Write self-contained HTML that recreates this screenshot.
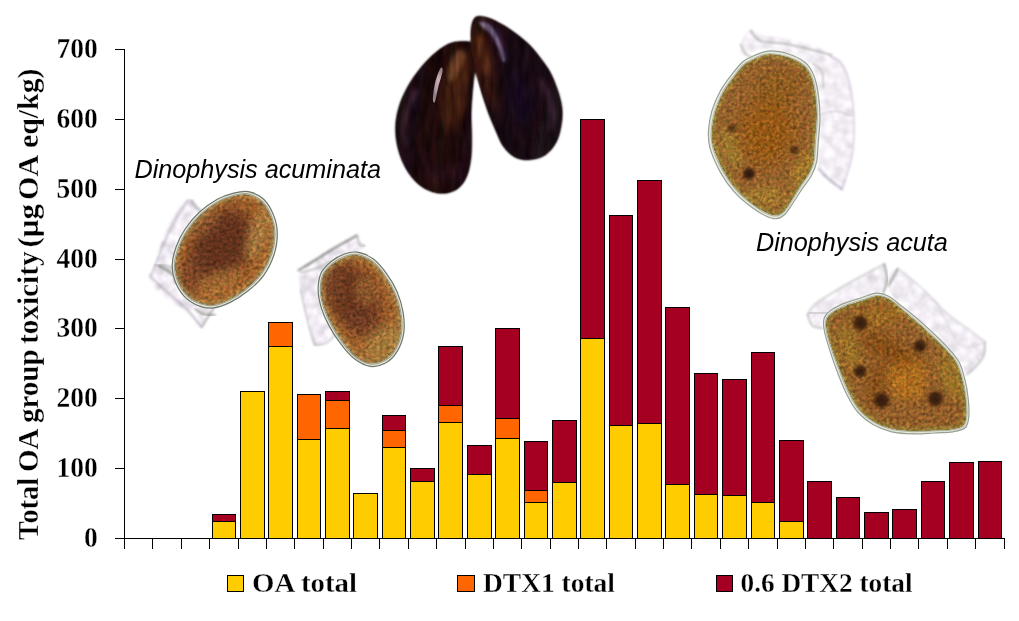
<!DOCTYPE html>
<html lang="en">
<head>
<meta charset="utf-8">
<title>Total OA group toxicity</title>
<style>
html,body{margin:0;padding:0;background:#fff;}
body{width:1019px;height:621px;overflow:hidden;}
svg{display:block;}
text{font-family:"Liberation Serif",serif;font-weight:bold;fill:#000;}
.ax,.yt,.lg{stroke:#fff;stroke-width:0.3px;stroke-linejoin:round;}
.ax{font-size:27px;}
.yt{font-size:28.5px;}
.lg{font-size:27.5px;}
.sp{font-family:"Liberation Sans",sans-serif;font-weight:normal;font-style:italic;font-size:25.2px;}
</style>
</head>
<body>
<svg width="1019" height="621" viewBox="0 0 1019 621">
<rect width="1019" height="621" fill="#fff"/>
<g shape-rendering="crispEdges">
<path d="M124.5 49V549M115 538.5H1005M115 468.5H125M115 398.5H125M115 328.5H125M115 259.5H125M115 189.5H125M115 119.5H125M115 49.5H125M152.5 538V549M181.5 538V549M209.5 538V549M238.5 538V549M266.5 538V549M294.5 538V549M323.5 538V549M351.5 538V549M379.5 538V549M408.5 538V549M436.5 538V549M465.5 538V549M493.5 538V549M521.5 538V549M550.5 538V549M578.5 538V549M606.5 538V549M635.5 538V549M663.5 538V549M691.5 538V549M720.5 538V549M748.5 538V549M777.5 538V549M805.5 538V549M833.5 538V549M862.5 538V549M890.5 538V549M918.5 538V549M947.5 538V549M975.5 538V549M1004.5 538V549" stroke="#000" fill="none"/>
<rect x="212.5" y="521.5" width="23" height="17" fill="#ffcc00" stroke="#000"/>
<rect x="212.5" y="514.5" width="23" height="7" fill="#a50021" stroke="#000"/>
<rect x="240.5" y="391.5" width="24" height="147" fill="#ffcc00" stroke="#000"/>
<rect x="268.5" y="346.5" width="24" height="192" fill="#ffcc00" stroke="#000"/>
<rect x="268.5" y="322.5" width="24" height="24" fill="#ff6600" stroke="#000"/>
<rect x="297.5" y="439.5" width="23" height="99" fill="#ffcc00" stroke="#000"/>
<rect x="297.5" y="394.5" width="23" height="45" fill="#ff6600" stroke="#000"/>
<rect x="325.5" y="428.5" width="24" height="110" fill="#ffcc00" stroke="#000"/>
<rect x="325.5" y="400.5" width="24" height="28" fill="#ff6600" stroke="#000"/>
<rect x="325.5" y="391.5" width="24" height="9" fill="#a50021" stroke="#000"/>
<rect x="353.5" y="493.5" width="24" height="45" fill="#ffcc00" stroke="#000"/>
<rect x="382.5" y="447.5" width="23" height="91" fill="#ffcc00" stroke="#000"/>
<rect x="382.5" y="430.5" width="23" height="17" fill="#ff6600" stroke="#000"/>
<rect x="382.5" y="415.5" width="23" height="15" fill="#a50021" stroke="#000"/>
<rect x="410.5" y="481.5" width="24" height="57" fill="#ffcc00" stroke="#000"/>
<rect x="410.5" y="468.5" width="24" height="13" fill="#a50021" stroke="#000"/>
<rect x="438.5" y="422.5" width="24" height="116" fill="#ffcc00" stroke="#000"/>
<rect x="438.5" y="405.5" width="24" height="17" fill="#ff6600" stroke="#000"/>
<rect x="438.5" y="346.5" width="24" height="59" fill="#a50021" stroke="#000"/>
<rect x="467.5" y="474.5" width="24" height="64" fill="#ffcc00" stroke="#000"/>
<rect x="467.5" y="445.5" width="24" height="29" fill="#a50021" stroke="#000"/>
<rect x="495.5" y="438.5" width="24" height="100" fill="#ffcc00" stroke="#000"/>
<rect x="495.5" y="418.5" width="24" height="20" fill="#ff6600" stroke="#000"/>
<rect x="495.5" y="328.5" width="24" height="90" fill="#a50021" stroke="#000"/>
<rect x="524.5" y="502.5" width="23" height="36" fill="#ffcc00" stroke="#000"/>
<rect x="524.5" y="490.5" width="23" height="12" fill="#ff6600" stroke="#000"/>
<rect x="524.5" y="441.5" width="23" height="49" fill="#a50021" stroke="#000"/>
<rect x="552.5" y="482.5" width="24" height="56" fill="#ffcc00" stroke="#000"/>
<rect x="552.5" y="420.5" width="24" height="62" fill="#a50021" stroke="#000"/>
<rect x="580.5" y="338.5" width="24" height="200" fill="#ffcc00" stroke="#000"/>
<rect x="580.5" y="119.5" width="24" height="219" fill="#a50021" stroke="#000"/>
<rect x="609.5" y="425.5" width="23" height="113" fill="#ffcc00" stroke="#000"/>
<rect x="609.5" y="215.5" width="23" height="210" fill="#a50021" stroke="#000"/>
<rect x="637.5" y="423.5" width="24" height="115" fill="#ffcc00" stroke="#000"/>
<rect x="637.5" y="180.5" width="24" height="243" fill="#a50021" stroke="#000"/>
<rect x="665.5" y="484.5" width="24" height="54" fill="#ffcc00" stroke="#000"/>
<rect x="665.5" y="307.5" width="24" height="177" fill="#a50021" stroke="#000"/>
<rect x="694.5" y="494.5" width="23" height="44" fill="#ffcc00" stroke="#000"/>
<rect x="694.5" y="373.5" width="23" height="121" fill="#a50021" stroke="#000"/>
<rect x="722.5" y="495.5" width="24" height="43" fill="#ffcc00" stroke="#000"/>
<rect x="722.5" y="379.5" width="24" height="116" fill="#a50021" stroke="#000"/>
<rect x="751.5" y="502.5" width="23" height="36" fill="#ffcc00" stroke="#000"/>
<rect x="751.5" y="352.5" width="23" height="150" fill="#a50021" stroke="#000"/>
<rect x="779.5" y="521.5" width="24" height="17" fill="#ffcc00" stroke="#000"/>
<rect x="779.5" y="440.5" width="24" height="81" fill="#a50021" stroke="#000"/>
<rect x="807.5" y="481.5" width="24" height="57" fill="#a50021" stroke="#000"/>
<rect x="836.5" y="497.5" width="23" height="41" fill="#a50021" stroke="#000"/>
<rect x="864.5" y="512.5" width="24" height="26" fill="#a50021" stroke="#000"/>
<rect x="892.5" y="509.5" width="24" height="29" fill="#a50021" stroke="#000"/>
<rect x="921.5" y="481.5" width="23" height="57" fill="#a50021" stroke="#000"/>
<rect x="949.5" y="462.5" width="24" height="76" fill="#a50021" stroke="#000"/>
<rect x="978.5" y="461.5" width="23" height="77" fill="#a50021" stroke="#000"/>
<rect x="227.5" y="575.5" width="16" height="16" fill="#ffcc00" stroke="#000"/>
<rect x="457.5" y="575.5" width="17" height="16" fill="#ff6600" stroke="#000"/>
<rect x="716.5" y="575.5" width="16" height="16" fill="#a50021" stroke="#000"/>
</g>
<text transform="translate(97.8 547.4) scale(1.02 1.075)" text-anchor="end" class="ax">0</text>
<text transform="translate(97.8 477.4) scale(1.02 1.075)" text-anchor="end" class="ax">100</text>
<text transform="translate(97.8 407.4) scale(1.02 1.075)" text-anchor="end" class="ax">200</text>
<text transform="translate(97.8 337.4) scale(1.02 1.075)" text-anchor="end" class="ax">300</text>
<text transform="translate(97.8 268.4) scale(1.02 1.075)" text-anchor="end" class="ax">400</text>
<text transform="translate(97.8 198.4) scale(1.02 1.075)" text-anchor="end" class="ax">500</text>
<text transform="translate(97.8 128.4) scale(1.02 1.075)" text-anchor="end" class="ax">600</text>
<text transform="translate(97.8 58.4) scale(1.02 1.075)" text-anchor="end" class="ax">700</text>
<text transform="translate(37.6 540.5) rotate(-90)" class="yt"><tspan x="0.6" textLength="62" lengthAdjust="spacingAndGlyphs">Total</tspan> <tspan x="68.5" textLength="42" lengthAdjust="spacingAndGlyphs">OA</tspan> <tspan x="117.5" textLength="73.5" lengthAdjust="spacingAndGlyphs">group</tspan> <tspan x="196.5" textLength="92.5" lengthAdjust="spacingAndGlyphs">toxicity</tspan> <tspan x="293" textLength="43.5" lengthAdjust="spacingAndGlyphs">(μg</tspan> <tspan x="340.5" textLength="43.5" lengthAdjust="spacingAndGlyphs">OA</tspan> <tspan x="392.5" textLength="79.5" lengthAdjust="spacingAndGlyphs">eq/kg)</tspan></text>
<text x="252" y="591.5" class="lg" textLength="105" lengthAdjust="spacingAndGlyphs">OA total</text>
<text x="483" y="591.5" class="lg" textLength="132" lengthAdjust="spacingAndGlyphs">DTX1 total</text>
<text x="740.5" y="591.5" class="lg" textLength="172" lengthAdjust="spacingAndGlyphs">0.6 DTX2 total</text>
<defs>
<filter id="grain" x="-5%" y="-5%" width="110%" height="110%" color-interpolation-filters="sRGB">
  <feTurbulence type="fractalNoise" baseFrequency="0.3" numOctaves="2" seed="11" result="n"/>
  <feColorMatrix in="n" type="matrix" values="1.3 0.7 0 0 -0.5  0.75 1.25 0 0 -0.5  1 1 0 0 -0.5  0 0 0 0 1" result="n1"/>
  <feComposite in="SourceGraphic" in2="n1" operator="arithmetic" k1="0.6" k2="0.7" k3="0" k4="0" result="tx"/>
  <feComposite in="tx" in2="SourceAlpha" operator="in" result="txm"/>
  <feGaussianBlur in="txm" stdDeviation="0.5"/>
</filter>
<filter id="mgrain" x="-5%" y="-5%" width="110%" height="110%" color-interpolation-filters="sRGB">
  <feTurbulence type="fractalNoise" baseFrequency="0.16 0.04" numOctaves="2" seed="5" result="n"/>
  <feColorMatrix in="n" type="matrix" values="1.1 0.7 0 0 -0.4  0.9 0.8 0 0 -0.4  0.8 0.7 0.3 0 -0.42  0 0 0 0 1" result="n1"/>
  <feComposite in="SourceGraphic" in2="n1" operator="arithmetic" k1="0.55" k2="0.55" k3="0.03" k4="-0.015" result="tx"/>
  <feComposite in="tx" in2="SourceAlpha" operator="in" result="txm"/>
  <feGaussianBlur in="txm" stdDeviation="0.7"/>
</filter>
<filter id="wgrain" x="-10%" y="-10%" width="120%" height="120%" color-interpolation-filters="sRGB">
  <feTurbulence type="fractalNoise" baseFrequency="0.12" numOctaves="3" seed="21" result="n"/>
  <feColorMatrix in="n" type="matrix" values="0.3 0.3 0 0 0.63  0.28 0.3 0 0 0.61  0.3 0.3 0 0 0.64  0 0 0 0 1" result="n1"/>
  <feComposite in="n1" in2="SourceAlpha" operator="in" result="w"/>
  <feGaussianBlur in="w" stdDeviation="1.3"/>
</filter>
<filter id="soft" x="-10%" y="-10%" width="120%" height="120%"><feGaussianBlur stdDeviation="1.1"/></filter>
<filter id="soft2" x="-20%" y="-20%" width="140%" height="140%"><feGaussianBlur stdDeviation="2.2"/></filter>
<filter id="soft3" x="-30%" y="-30%" width="160%" height="160%"><feGaussianBlur stdDeviation="4"/></filter>
<filter id="soft6" x="-40%" y="-40%" width="180%" height="180%"><feGaussianBlur stdDeviation="7"/></filter>
<filter id="soft05" x="-10%" y="-10%" width="120%" height="120%"><feGaussianBlur stdDeviation="0.6"/></filter>
<radialGradient id="spot"><stop offset="0" stop-color="#22100a" stop-opacity="0.97"/><stop offset="0.5" stop-color="#2e160a" stop-opacity="0.85"/><stop offset="1" stop-color="#4a260c" stop-opacity="0"/></radialGradient>
<linearGradient id="mL" x1="0" y1="0" x2="1" y2="0.25">
  <stop offset="0" stop-color="#2a181e"/><stop offset="0.35" stop-color="#1e0e12"/><stop offset="0.7" stop-color="#281210"/><stop offset="1" stop-color="#200e12"/>
</linearGradient>
<linearGradient id="mR" x1="0" y1="0" x2="1" y2="0.4">
  <stop offset="0" stop-color="#301610"/><stop offset="0.3" stop-color="#220e12"/><stop offset="0.7" stop-color="#1a0c14"/><stop offset="1" stop-color="#24141c"/>
</linearGradient>
</defs>
<g id="mussel" filter="url(#mgrain)">
<clipPath id="cmL"><path d="M466.5 40.6C463.2 40.5 456.3 40.4 451.2 42.1C446.1 43.9 441.0 47.2 435.9 51.3C430.8 55.4 425.5 60.8 420.6 66.6C415.8 72.5 410.7 79.6 406.8 86.5C403.0 93.4 399.7 100.8 397.7 107.9C395.6 115.1 394.6 122.2 394.6 129.4C394.6 136.5 395.9 144.2 397.7 150.8C399.4 157.4 402.0 163.6 405.3 169.2C408.6 174.8 413.0 180.5 417.5 184.5C422.1 188.5 427.8 191.5 432.9 193.0C438.0 194.6 443.6 194.6 448.2 193.7C452.7 192.7 457.1 190.6 460.4 187.5C463.7 184.5 466.1 180.4 468.1 175.3C470.0 170.2 471.3 163.6 472.0 156.9C472.8 150.3 472.6 142.6 472.6 135.5C472.6 128.4 471.9 121.2 472.0 114.1C472.1 106.9 472.7 99.8 473.3 92.6C473.8 85.5 474.9 77.9 475.1 71.2C475.2 64.6 474.8 57.5 474.2 52.9C473.5 48.2 472.4 45.1 471.1 43.1C469.8 41.0 469.8 40.8 466.5 40.6Z"/></clipPath><clipPath id="cmR"><path d="M475.7 16.1C473.4 17.4 472.0 20.2 471.1 23.8C470.2 27.3 470.0 32.2 470.2 37.5C470.3 42.9 471.1 49.8 472.0 55.9C473.0 62.0 474.1 67.6 475.7 74.3C477.3 80.9 479.8 89.1 481.8 95.7C483.9 102.3 485.7 107.9 487.9 114.1C490.2 120.2 493.1 126.8 495.6 132.4C498.2 138.0 499.9 143.4 503.3 147.7C506.6 152.1 510.9 156.3 515.5 158.5C520.1 160.6 525.7 161.1 530.8 160.6C535.9 160.1 541.8 158.3 546.1 155.4C550.4 152.5 554.2 148.0 556.8 143.1C559.5 138.3 561.0 132.2 562.0 126.3C563.0 120.4 563.6 114.1 562.9 107.9C562.3 101.8 560.4 95.7 558.4 89.6C556.3 83.5 553.8 76.8 550.7 71.2C547.6 65.6 543.8 60.8 540.0 55.9C536.2 51.1 532.3 46.5 527.7 42.1C523.1 37.8 517.5 33.5 512.4 29.9C507.3 26.3 501.7 23.0 497.1 20.7C492.5 18.4 488.5 16.9 484.9 16.1C481.3 15.4 478.0 14.8 475.7 16.1Z"/></clipPath>
<g filter="url(#soft)">
<path d="M466.5 40.6C463.2 40.5 456.3 40.4 451.2 42.1C446.1 43.9 441.0 47.2 435.9 51.3C430.8 55.4 425.5 60.8 420.6 66.6C415.8 72.5 410.7 79.6 406.8 86.5C403.0 93.4 399.7 100.8 397.7 107.9C395.6 115.1 394.6 122.2 394.6 129.4C394.6 136.5 395.9 144.2 397.7 150.8C399.4 157.4 402.0 163.6 405.3 169.2C408.6 174.8 413.0 180.5 417.5 184.5C422.1 188.5 427.8 191.5 432.9 193.0C438.0 194.6 443.6 194.6 448.2 193.7C452.7 192.7 457.1 190.6 460.4 187.5C463.7 184.5 466.1 180.4 468.1 175.3C470.0 170.2 471.3 163.6 472.0 156.9C472.8 150.3 472.6 142.6 472.6 135.5C472.6 128.4 471.9 121.2 472.0 114.1C472.1 106.9 472.7 99.8 473.3 92.6C473.8 85.5 474.9 77.9 475.1 71.2C475.2 64.6 474.8 57.5 474.2 52.9C473.5 48.2 472.4 45.1 471.1 43.1C469.8 41.0 469.8 40.8 466.5 40.6Z" fill="url(#mL)"/>
<path d="M475.7 16.1C473.4 17.4 472.0 20.2 471.1 23.8C470.2 27.3 470.0 32.2 470.2 37.5C470.3 42.9 471.1 49.8 472.0 55.9C473.0 62.0 474.1 67.6 475.7 74.3C477.3 80.9 479.8 89.1 481.8 95.7C483.9 102.3 485.7 107.9 487.9 114.1C490.2 120.2 493.1 126.8 495.6 132.4C498.2 138.0 499.9 143.4 503.3 147.7C506.6 152.1 510.9 156.3 515.5 158.5C520.1 160.6 525.7 161.1 530.8 160.6C535.9 160.1 541.8 158.3 546.1 155.4C550.4 152.5 554.2 148.0 556.8 143.1C559.5 138.3 561.0 132.2 562.0 126.3C563.0 120.4 563.6 114.1 562.9 107.9C562.3 101.8 560.4 95.7 558.4 89.6C556.3 83.5 553.8 76.8 550.7 71.2C547.6 65.6 543.8 60.8 540.0 55.9C536.2 51.1 532.3 46.5 527.7 42.1C523.1 37.8 517.5 33.5 512.4 29.9C507.3 26.3 501.7 23.0 497.1 20.7C492.5 18.4 488.5 16.9 484.9 16.1C481.3 15.4 478.0 14.8 475.7 16.1Z" fill="url(#mR)"/>
</g>
<g clip-path="url(#cmL)">
<path d="M461.9 48.3C458.6 47.2 454.0 56.2 451.2 62.0C448.4 67.9 446.4 75.8 445.1 83.5C443.8 91.1 443.1 99.8 443.6 107.9C444.1 116.1 445.6 130.4 448.2 132.4C450.7 134.5 455.8 126.3 458.9 120.2C461.9 114.1 464.5 104.4 466.5 95.7C468.6 87.0 471.9 76.1 471.1 68.2C470.3 60.2 465.2 49.3 461.9 48.3Z" fill="#643018" opacity="0.7" filter="url(#soft3)"/>
<path d="M457.3 51.3C454.8 53.4 451.2 60.2 449.7 65.1C448.2 69.9 447.4 78.1 448.2 80.4C448.9 82.7 452.0 81.4 454.3 78.9C456.6 76.3 460.1 69.4 461.9 65.1C463.7 60.8 465.8 55.1 465.0 52.9C464.2 50.6 459.9 49.3 457.3 51.3Z" fill="#a06c40" opacity="0.6" filter="url(#soft2)"/>
<path d="M440.5 68.2C439.3 69.9 436.6 76.8 435.3 81.9C434.0 87.0 432.9 95.5 432.9 98.8C432.8 102.1 434.1 103.9 435.0 101.8C435.9 99.8 437.1 91.6 438.4 86.5C439.6 81.4 442.3 74.3 442.6 71.2C443.0 68.2 441.7 66.4 440.5 68.2Z" fill="#f0dfe4" opacity="0.8" filter="url(#soft05)"/>
<path d="M413.0 89.6C410.9 92.4 407.1 103.9 405.3 111.0C403.5 118.2 402.0 126.3 402.2 132.4C402.5 138.6 405.7 150.3 406.8 147.7C408.0 145.2 407.2 126.1 409.0 117.1C410.8 108.2 416.9 98.8 417.5 94.2C418.2 89.6 415.0 86.8 413.0 89.6Z" fill="#5a3a52" opacity="0.55" filter="url(#soft2)"/>
<path d="M420.6 144.7C422.1 143.1 425.2 155.9 429.8 160.0C434.4 164.1 442.5 168.7 448.2 169.2C453.8 169.7 461.2 162.0 463.5 163.0C465.8 164.1 465.5 172.0 461.9 175.3C458.4 178.6 448.9 184.0 442.0 182.9C435.1 181.9 424.2 175.5 420.6 169.2C417.0 162.8 419.1 146.2 420.6 144.7Z" fill="#341626" opacity="0.6" filter="url(#soft3)"/>
</g>
<g clip-path="url(#cmR)">
<path d="M473.3 31.4C471.9 34.0 474.1 43.2 475.1 49.8C476.1 56.4 477.5 63.6 479.4 71.2C481.3 78.9 483.7 89.1 486.4 95.7C489.1 102.3 494.1 112.5 495.6 111.0C497.1 109.5 496.5 95.2 495.6 86.5C494.7 77.9 492.4 67.6 490.4 59.0C488.4 50.3 486.2 39.1 483.4 34.5C480.5 29.9 474.6 28.9 473.3 31.4Z" fill="#5e2c18" opacity="0.75" filter="url(#soft3)"/>
<path d="M477.2 37.5C477.0 40.6 479.0 49.8 480.3 55.9C481.6 62.0 483.3 71.5 484.9 74.3C486.5 77.1 489.5 75.8 489.8 72.7C490.1 69.7 488.1 61.8 486.7 55.9C485.4 50.0 483.4 40.6 481.8 37.5C480.2 34.5 477.5 34.5 477.2 37.5Z" fill="#8a5028" opacity="0.5" filter="url(#soft2)"/>
<path d="M477.2 20.7C477.3 19.0 482.4 18.6 485.5 19.8C488.6 21.0 492.6 24.0 495.6 27.8C498.6 31.5 501.2 36.9 503.3 42.1C505.3 47.3 507.9 55.7 507.8 59.0C507.7 62.3 504.7 64.6 502.6 62.0C500.6 59.5 498.6 49.0 495.6 43.7C492.6 38.3 487.9 33.7 484.9 29.9C481.8 26.1 477.1 22.4 477.2 20.7Z" fill="#4a3a7a" opacity="0.4" filter="url(#soft2)"/>
<path d="M478.8 22.2C479.7 21.6 485.7 22.3 488.6 24.1C491.4 25.9 493.6 28.8 495.9 33.0C498.3 37.1 501.1 44.6 502.6 49.2C504.2 53.8 505.1 58.6 505.1 60.5C505.0 62.4 503.6 63.0 502.3 60.8C501.1 58.6 499.6 51.7 497.7 47.3C495.9 43.0 493.5 37.8 491.0 34.5C488.5 31.2 484.8 29.8 482.7 27.8C480.7 25.7 477.8 22.9 478.8 22.2Z" fill="#dcd0ec" opacity="0.45" filter="url(#soft)"/>
<path d="M541.5 77.3C543.6 79.7 549.9 90.6 552.2 97.2C554.5 103.9 555.5 111.3 555.3 117.1C555.0 123.0 551.8 134.5 550.7 132.4C549.6 130.4 550.3 113.2 548.6 104.9C546.8 96.6 541.2 87.4 540.0 82.8C538.8 78.3 539.5 74.9 541.5 77.3Z" fill="#5a3a58" opacity="0.5" filter="url(#soft2)"/>
<path d="M515.5 65.1C518.6 65.1 524.9 76.3 527.7 83.5C530.5 90.6 533.4 100.8 532.3 107.9C531.3 115.1 525.4 126.3 521.6 126.3C517.8 126.3 511.4 115.1 509.4 107.9C507.3 100.8 508.4 90.6 509.4 83.5C510.4 76.3 512.4 65.1 515.5 65.1Z" fill="#1c1030" opacity="0.5" filter="url(#soft3)"/>
</g>
</g>
<g id="a1">
<path d="M189.0 199.3C185.3 198.9 182.1 203.8 178.6 208.3C175.2 212.9 171.3 220.4 168.3 226.4C165.3 232.4 162.8 238.4 160.6 244.4C158.5 250.4 157.4 257.3 155.5 262.5C153.5 267.6 149.0 271.0 149.0 275.3C149.0 279.6 151.8 283.9 155.5 288.2C159.1 292.5 165.3 296.8 170.9 301.1C176.5 305.4 183.8 309.5 189.0 314.0C194.1 318.5 198.8 327.3 201.8 328.2C204.8 329.0 204.8 322.4 207.0 319.1C209.1 315.9 216.4 311.2 214.7 308.8C213.0 306.5 202.3 307.5 196.7 305.0C191.1 302.4 185.3 299.2 181.2 293.4C177.1 287.6 173.1 277.9 172.2 270.2C171.3 262.5 173.7 254.3 176.1 247.0C178.4 239.7 182.3 232.4 186.4 226.4C190.5 220.4 200.1 215.4 200.6 210.9C201.0 206.4 192.6 199.8 189.0 199.3Z" fill="#fff" filter="url(#wgrain)" opacity="0.8"/>
<path d="M187.7 200.6C185.7 203.6 179.9 211.8 176.1 218.6C172.2 225.5 167.9 234.1 164.5 241.8C161.0 249.6 157.8 259.2 155.5 265.0C153.1 270.8 151.2 274.7 150.3 276.6" fill="none" stroke="#9a96a4" stroke-width="1.7999999999999998" opacity="0.5" stroke-linecap="round" filter="url(#soft)"/>
<path d="M151.6 277.9C154.4 280.5 162.5 288.2 168.3 293.4C174.1 298.5 180.9 303.3 186.4 308.8C191.9 314.4 198.8 323.9 201.3 326.9" fill="none" stroke="#8a8894" stroke-width="1.7999999999999998" opacity="0.5" stroke-linecap="round" filter="url(#soft)"/>
<path d="M155.5 265.0C157.6 265.2 165.3 265.7 168.3 266.3C171.3 267.0 172.6 268.5 173.5 268.9" fill="none" stroke="#7a8078" stroke-width="1.7999999999999998" opacity="0.5" stroke-linecap="round" filter="url(#soft)"/>
<path d="M201.8 326.9C202.9 325.2 206.3 319.6 208.3 316.6C210.2 313.6 212.6 310.1 213.4 308.8" fill="none" stroke="#8a9088" stroke-width="1.7999999999999998" opacity="0.6" stroke-linecap="round" filter="url(#soft)"/>
<path d="M159.3 266.3C160.6 267.0 164.7 268.7 167.1 270.2C169.4 271.7 172.0 273.2 173.5 275.3C175.0 277.5 175.6 281.8 176.1 283.1" fill="none" stroke="#6a7260" stroke-width="2.8000000000000003" opacity="0.55" stroke-linecap="round" filter="url(#soft)"/>
<path d="M195.4 308.8C196.7 309.7 199.9 312.9 203.1 314.0C206.3 315.1 212.8 315.1 214.7 315.3" fill="none" stroke="#6a7260" stroke-width="2.6" opacity="0.5" stroke-linecap="round" filter="url(#soft)"/>
<path d="M191.5 200.1C192.2 201.3 193.9 205.3 195.4 207.1C196.9 208.8 199.7 209.8 200.6 210.4" fill="none" stroke="#8a8e88" stroke-width="2.2" opacity="0.5" stroke-linecap="round" filter="url(#soft)"/>
<path d="M248.2 191.6C253.4 192.6 259.4 195.2 263.7 199.3C268.0 203.4 271.7 210.3 274.0 216.1C276.3 221.9 277.3 227.7 277.3 234.1C277.3 240.6 276.3 247.9 274.0 254.7C271.7 261.6 268.0 269.3 263.7 275.3C259.4 281.3 253.8 286.3 248.2 290.8C242.6 295.3 236.2 299.5 230.2 302.4C224.2 305.3 217.7 307.6 212.1 308.1C206.6 308.5 201.4 307.0 196.7 305.0C192.0 302.9 187.5 300.0 183.8 295.9C180.2 291.9 176.7 285.6 174.8 280.5C172.9 275.3 172.0 270.6 172.2 265.0C172.4 259.4 173.9 253.0 176.1 247.0C178.2 241.0 181.2 234.8 185.1 229.0C189.0 223.2 193.9 217.1 199.3 212.2C204.6 207.3 211.7 202.5 217.3 199.3C222.9 196.2 227.6 194.7 232.8 193.4C237.9 192.1 243.1 190.6 248.2 191.6Z" fill="#e6e6dc" stroke="#6e7868" stroke-width="1.2" filter="url(#soft05)"/>
<path d="M247.3 193.8C252.3 194.7 258.1 197.3 262.2 201.2C266.3 205.1 269.9 211.8 272.0 217.4C274.1 223.0 275.1 228.6 275.0 234.8C275.0 241.0 273.8 248.0 271.6 254.5C269.4 261.0 265.8 268.3 261.7 274.0C257.6 279.8 252.3 284.4 247.0 288.7C241.7 293.1 235.6 297.2 229.9 300.0C224.2 302.8 218.0 305.2 212.6 305.7C207.3 306.2 202.3 304.7 197.7 302.8C193.2 300.9 188.9 298.1 185.4 294.1C181.9 290.2 178.6 284.2 176.8 279.2C175.0 274.3 174.2 269.7 174.5 264.4C174.8 259.0 176.4 252.9 178.5 247.1C180.6 241.4 183.5 235.6 187.2 230.1C190.9 224.6 195.5 219.0 200.6 214.2C205.6 209.5 212.3 204.8 217.6 201.7C222.9 198.6 227.4 197.1 232.4 195.8C237.3 194.5 242.3 192.9 247.3 193.8Z" fill="none" stroke="#6a6a50" stroke-width="1.2" opacity="0.55" filter="url(#soft05)"/>
<clipPath id="ca1"><path d="M247.1 194.4C252.0 195.3 257.8 197.8 261.8 201.7C265.9 205.6 269.4 212.2 271.5 217.8C273.6 223.3 274.5 228.8 274.5 235.0C274.4 241.1 273.2 248.0 271.0 254.4C268.8 260.9 265.2 268.1 261.1 273.7C257.1 279.4 251.9 283.9 246.7 288.2C241.5 292.5 235.5 296.6 229.8 299.4C224.2 302.2 218.0 304.6 212.7 305.1C207.4 305.6 202.5 304.2 198.0 302.3C193.5 300.4 189.2 297.6 185.8 293.7C182.3 289.8 179.1 283.8 177.3 278.9C175.6 274.0 174.8 269.5 175.1 264.2C175.4 258.9 177.0 252.8 179.1 247.2C181.2 241.5 184.1 235.8 187.7 230.4C191.4 225.0 195.9 219.4 200.9 214.7C205.9 210.0 212.5 205.4 217.7 202.3C222.9 199.2 227.4 197.7 232.3 196.4C237.2 195.0 242.1 193.5 247.1 194.4Z"/></clipPath>
<g filter="url(#grain)"><g clip-path="url(#ca1)">
<path d="M247.1 194.4C252.0 195.3 257.8 197.8 261.8 201.7C265.9 205.6 269.4 212.2 271.5 217.8C273.6 223.3 274.5 228.8 274.5 235.0C274.4 241.1 273.2 248.0 271.0 254.4C268.8 260.9 265.2 268.1 261.1 273.7C257.1 279.4 251.9 283.9 246.7 288.2C241.5 292.5 235.5 296.6 229.8 299.4C224.2 302.2 218.0 304.6 212.7 305.1C207.4 305.6 202.5 304.2 198.0 302.3C193.5 300.4 189.2 297.6 185.8 293.7C182.3 289.8 179.1 283.8 177.3 278.9C175.6 274.0 174.8 269.5 175.1 264.2C175.4 258.9 177.0 252.8 179.1 247.2C181.2 241.5 184.1 235.8 187.7 230.4C191.4 225.0 195.9 219.4 200.9 214.7C205.9 210.0 212.5 205.4 217.7 202.3C222.9 199.2 227.4 197.7 232.3 196.4C237.2 195.0 242.1 193.5 247.1 194.4Z" fill="#a0602c"/>
<ellipse cx="222.5" cy="244.4" rx="28" ry="38" transform="rotate(35 222.5 244.4)" fill="#5c2e1c" opacity="0.9" filter="url(#soft6)"/>
<ellipse cx="191.5" cy="275.3" rx="14" ry="22" transform="rotate(20 191.5 275.3)" fill="#6e3e26" opacity="0.6" filter="url(#soft3)"/>
<ellipse cx="257.2" cy="235.4" rx="9" ry="26" transform="rotate(15 257.2 235.4)" fill="#b08848" opacity="0.7" filter="url(#soft3)"/>
<ellipse cx="219.9" cy="283.1" rx="24" ry="12" transform="rotate(-25 219.9 283.1)" fill="#a87438" opacity="0.6" filter="url(#soft3)"/>
<ellipse cx="204.4" cy="223.8" rx="18" ry="10" transform="rotate(-40 204.4 223.8)" fill="#966034" opacity="0.5" filter="url(#soft3)"/>
<path d="M247.1 194.4C252.0 195.3 257.8 197.8 261.8 201.7C265.9 205.6 269.4 212.2 271.5 217.8C273.6 223.3 274.5 228.8 274.5 235.0C274.4 241.1 273.2 248.0 271.0 254.4C268.8 260.9 265.2 268.1 261.1 273.7C257.1 279.4 251.9 283.9 246.7 288.2C241.5 292.5 235.5 296.6 229.8 299.4C224.2 302.2 218.0 304.6 212.7 305.1C207.4 305.6 202.5 304.2 198.0 302.3C193.5 300.4 189.2 297.6 185.8 293.7C182.3 289.8 179.1 283.8 177.3 278.9C175.6 274.0 174.8 269.5 175.1 264.2C175.4 258.9 177.0 252.8 179.1 247.2C181.2 241.5 184.1 235.8 187.7 230.4C191.4 225.0 195.9 219.4 200.9 214.7C205.9 210.0 212.5 205.4 217.7 202.3C222.9 199.2 227.4 197.7 232.3 196.4C237.2 195.0 242.1 193.5 247.1 194.4Z" fill="none" stroke="#a8a060" stroke-width="6" opacity="0.55" filter="url(#soft2)"/>
</g></g>
</g>
<g id="a2">
<path d="M318.6 274.1C316.6 270.9 309.0 270.0 305.8 270.2C302.5 270.5 300.2 272.2 299.3 275.4C298.5 278.6 299.8 284.2 300.6 289.6C301.5 294.9 303.0 301.2 304.5 307.6C306.0 314.0 307.9 322.0 309.6 328.2C311.3 334.4 312.0 342.4 314.8 345.0C317.6 347.5 322.9 345.4 326.4 343.7C329.8 342.0 335.2 338.1 335.4 334.7C335.6 331.2 330.1 327.8 327.7 323.1C325.2 318.3 322.3 311.9 320.7 306.3C319.1 300.7 318.5 294.9 318.1 289.6C317.8 284.2 320.7 277.3 318.6 274.1Z" fill="#fff" filter="url(#wgrain)" opacity="0.8"/>
<path d="M299.3 269.0C300.2 267.2 305.6 264.7 310.9 261.2C316.3 257.8 324.0 252.7 331.5 248.3C339.0 244.0 351.5 236.2 356.0 234.9C360.5 233.7 357.1 238.8 358.6 240.6C360.1 242.4 365.2 243.8 365.0 245.8C364.8 247.7 360.7 250.8 357.3 252.2C353.9 253.6 348.7 252.5 344.4 254.0C340.1 255.5 335.4 258.3 331.5 261.2C327.7 264.1 325.5 269.8 321.2 271.5C316.9 273.3 309.4 272.0 305.8 271.5C302.1 271.1 298.5 270.7 299.3 269.0Z" fill="#fff" filter="url(#wgrain)" opacity="0.8"/>
<path d="M298.6 270.2C301.0 268.7 307.6 264.9 313.5 261.2C319.4 257.6 326.9 252.6 334.1 248.3C341.3 244.0 353.0 237.6 356.8 235.5" fill="none" stroke="#6a7068" stroke-width="2.2" opacity="0.7" stroke-linecap="round" filter="url(#soft)"/>
<path d="M300.6 272.8C303.6 272.0 313.5 269.6 318.6 267.7C323.8 265.7 329.4 262.3 331.5 261.2" fill="none" stroke="#8a8e88" stroke-width="1.7999999999999998" opacity="0.5" stroke-linecap="round" filter="url(#soft)"/>
<path d="M300.6 289.6C301.3 292.6 303.0 301.2 304.5 307.6C306.0 314.0 307.9 322.0 309.6 328.2C311.3 334.4 313.9 342.2 314.8 345.0" fill="none" stroke="#a49cac" stroke-width="1.7999999999999998" opacity="0.5" stroke-linecap="round" filter="url(#soft)"/>
<path d="M314.8 345.0C316.5 344.8 321.9 345.2 325.1 343.7C328.3 342.2 332.6 337.2 334.1 335.9" fill="none" stroke="#a49cac" stroke-width="1.7999999999999998" opacity="0.4" stroke-linecap="round" filter="url(#soft)"/>
<path d="M357.3 236.0C357.7 237.4 358.6 242.8 359.9 244.5C361.2 246.1 364.2 245.6 365.0 245.8" fill="none" stroke="#8a8e88" stroke-width="1.7999999999999998" opacity="0.5" stroke-linecap="round" filter="url(#soft)"/>
<path d="M357.3 252.2C362.0 253.0 367.8 255.0 372.8 258.6C377.7 262.3 382.9 268.5 386.9 274.1C391.0 279.7 394.5 285.7 397.2 292.1C399.9 298.6 402.1 305.9 403.2 312.8C404.2 319.6 404.7 326.9 403.7 333.4C402.7 339.8 400.2 346.5 397.2 351.4C394.2 356.3 390.2 360.5 385.6 363.0C381.1 365.5 375.3 367.0 370.2 366.4C365.0 365.7 359.7 362.9 354.7 359.1C349.8 355.4 344.8 349.3 340.6 343.7C336.3 338.1 332.2 331.7 329.0 325.6C325.7 319.6 323.0 313.6 321.2 307.6C319.4 301.6 318.1 295.4 318.1 289.6C318.1 283.8 319.0 277.5 321.2 272.8C323.5 268.1 327.7 264.4 331.5 261.2C335.4 258.1 340.1 255.5 344.4 254.0C348.7 252.5 352.6 251.4 357.3 252.2Z" fill="#e6e6dc" stroke="#6e7868" stroke-width="1.2" filter="url(#soft05)"/>
<path d="M357.5 254.6C362.0 255.4 367.5 257.4 372.2 261.0C376.8 264.5 381.6 270.6 385.4 276.0C389.2 281.3 392.5 287.0 395.0 293.0C397.6 299.1 399.7 305.9 400.8 312.4C401.9 318.9 402.5 325.9 401.6 332.1C400.8 338.3 398.5 344.8 395.7 349.6C392.9 354.3 389.0 358.4 384.7 360.8C380.4 363.2 374.8 364.7 369.8 364.0C364.9 363.3 359.7 360.5 355.0 356.8C350.3 353.0 345.7 347.0 341.7 341.6C337.7 336.2 334.0 330.1 331.0 324.4C328.0 318.8 325.4 313.2 323.6 307.6C321.8 301.9 320.5 296.0 320.4 290.5C320.3 284.9 321.0 278.9 323.0 274.4C325.1 269.8 329.1 266.3 332.8 263.2C336.5 260.2 341.0 257.7 345.1 256.3C349.2 254.9 352.9 253.8 357.5 254.6Z" fill="none" stroke="#6a6a50" stroke-width="1.2" opacity="0.55" filter="url(#soft05)"/>
<clipPath id="ca2"><path d="M357.5 255.2C362.0 256.0 367.4 258.0 372.0 261.6C376.6 265.1 381.3 271.2 385.1 276.5C388.8 281.7 391.9 287.3 394.5 293.3C397.0 299.3 399.1 305.9 400.2 312.3C401.3 318.8 401.9 325.7 401.1 331.8C400.3 337.9 398.1 344.3 395.3 349.1C392.6 353.8 388.7 357.9 384.4 360.3C380.2 362.6 374.6 364.1 369.7 363.4C364.8 362.7 359.7 359.9 355.1 356.2C350.5 352.4 345.9 346.4 342.0 341.1C338.1 335.7 334.5 329.7 331.5 324.1C328.6 318.5 326.0 313.1 324.2 307.6C322.5 302.0 321.0 296.2 320.9 290.7C320.8 285.2 321.5 279.3 323.5 274.8C325.5 270.3 329.5 266.7 333.2 263.8C336.8 260.8 341.3 258.3 345.3 256.9C349.4 255.5 353.0 254.4 357.5 255.2Z"/></clipPath>
<g filter="url(#grain)"><g clip-path="url(#ca2)">
<path d="M357.5 255.2C362.0 256.0 367.4 258.0 372.0 261.6C376.6 265.1 381.3 271.2 385.1 276.5C388.8 281.7 391.9 287.3 394.5 293.3C397.0 299.3 399.1 305.9 400.2 312.3C401.3 318.8 401.9 325.7 401.1 331.8C400.3 337.9 398.1 344.3 395.3 349.1C392.6 353.8 388.7 357.9 384.4 360.3C380.2 362.6 374.6 364.1 369.7 363.4C364.8 362.7 359.7 359.9 355.1 356.2C350.5 352.4 345.9 346.4 342.0 341.1C338.1 335.7 334.5 329.7 331.5 324.1C328.6 318.5 326.0 313.1 324.2 307.6C322.5 302.0 321.0 296.2 320.9 290.7C320.8 285.2 321.5 279.3 323.5 274.8C325.5 270.3 329.5 266.7 333.2 263.8C336.8 260.8 341.3 258.3 345.3 256.9C349.4 255.5 353.0 254.4 357.5 255.2Z" fill="#a0622e"/>
<ellipse cx="352.1" cy="297.3" rx="24" ry="36" transform="rotate(-30 352.1 297.3)" fill="#5e2e1c" opacity="0.85" filter="url(#soft6)"/>
<ellipse cx="365.0" cy="323.1" rx="22" ry="14" transform="rotate(30 365.0 323.1)" fill="#703c26" opacity="0.6" filter="url(#soft3)"/>
<ellipse cx="365.0" cy="292.1" rx="10" ry="14" transform="rotate(-20 365.0 292.1)" fill="#a87438" opacity="0.55" filter="url(#soft3)"/>
<ellipse cx="383.1" cy="341.1" rx="22" ry="14" transform="rotate(-40 383.1 341.1)" fill="#a88844" opacity="0.6" filter="url(#soft3)"/>
<ellipse cx="334.1" cy="284.4" rx="8" ry="20" transform="rotate(-20 334.1 284.4)" fill="#7a4a2c" opacity="0.5" filter="url(#soft3)"/>
<path d="M357.5 255.2C362.0 256.0 367.4 258.0 372.0 261.6C376.6 265.1 381.3 271.2 385.1 276.5C388.8 281.7 391.9 287.3 394.5 293.3C397.0 299.3 399.1 305.9 400.2 312.3C401.3 318.8 401.9 325.7 401.1 331.8C400.3 337.9 398.1 344.3 395.3 349.1C392.6 353.8 388.7 357.9 384.4 360.3C380.2 362.6 374.6 364.1 369.7 363.4C364.8 362.7 359.7 359.9 355.1 356.2C350.5 352.4 345.9 346.4 342.0 341.1C338.1 335.7 334.5 329.7 331.5 324.1C328.6 318.5 326.0 313.1 324.2 307.6C322.5 302.0 321.0 296.2 320.9 290.7C320.8 285.2 321.5 279.3 323.5 274.8C325.5 270.3 329.5 266.7 333.2 263.8C336.8 260.8 341.3 258.3 345.3 256.9C349.4 255.5 353.0 254.4 357.5 255.2Z" fill="none" stroke="#a8a060" stroke-width="6" opacity="0.55" filter="url(#soft2)"/>
</g></g>
</g>
<g id="b1">
<path d="M813.2 63.9C815.2 58.6 823.6 55.5 828.4 55.5C833.2 55.5 838.3 58.6 841.9 63.9C845.6 69.3 848.4 78.0 850.4 87.6C852.4 97.2 853.5 110.1 853.8 121.4C854.0 132.7 854.0 143.9 852.1 155.2C850.1 166.4 845.9 185.0 841.9 189.0C838.0 192.9 832.4 182.2 828.4 178.8C824.5 175.5 819.5 178.3 818.3 168.7C817.0 159.1 821.3 134.9 821.0 121.4C820.7 107.9 817.9 97.2 816.6 87.6C815.3 78.0 811.2 69.3 813.2 63.9Z" fill="#fff" filter="url(#wgrain)" opacity="0.6"/>
<path d="M740.6 43.7C741.7 39.4 747.3 31.5 750.7 30.1C754.1 28.7 755.2 33.8 760.8 35.2C766.5 36.6 776.0 36.9 784.5 38.6C792.9 40.3 803.6 42.8 811.5 45.3C819.4 47.9 829.0 51.5 831.8 53.8C834.6 56.0 831.8 57.2 828.4 58.9C825.0 60.6 818.3 64.8 811.5 63.9C804.8 63.1 796.3 56.3 787.9 53.8C779.4 51.3 768.2 48.4 760.8 48.7C753.5 49.0 747.3 56.3 743.9 55.5C740.6 54.6 739.4 47.9 740.6 43.7Z" fill="#fff" filter="url(#wgrain)" opacity="0.6"/>
<path d="M750.7 30.8C752.4 32.5 755.2 38.8 760.8 41.0C766.5 43.1 776.0 42.2 784.5 43.7C792.9 45.1 803.8 47.8 811.5 49.7C819.3 51.7 827.9 54.2 831.1 55.1" fill="none" stroke="#8a9088" stroke-width="1.7999999999999998" opacity="0.6" stroke-linecap="round" filter="url(#soft)"/>
<path d="M740.6 44.3C741.4 45.9 743.9 51.8 745.6 53.8C747.3 55.8 749.8 56.0 750.7 56.5" fill="none" stroke="#9aa094" stroke-width="1.7999999999999998" opacity="0.6" stroke-linecap="round" filter="url(#soft)"/>
<path d="M830.1 56.5C832.1 57.7 838.6 58.8 841.9 63.9C845.3 69.1 848.4 78.0 850.4 87.6C852.4 97.2 853.5 110.1 853.8 121.4C854.0 132.7 854.0 143.9 852.1 155.2C850.1 166.4 843.6 183.3 841.9 189.0" fill="none" stroke="#c8bcd4" stroke-width="2.0" opacity="0.6" stroke-linecap="round" filter="url(#soft)"/>
<path d="M819.0 168.7C820.5 170.4 824.6 175.5 828.4 178.8C832.3 182.2 839.7 187.3 841.9 189.0" fill="none" stroke="#a8a0b4" stroke-width="2.2" opacity="0.7" stroke-linecap="round" filter="url(#soft)"/>
<path d="M821.0 114.6C823.4 114.1 830.0 111.0 835.2 111.2C840.4 111.5 849.3 115.5 852.1 116.3" fill="none" stroke="#c4bccc" stroke-width="1.7999999999999998" opacity="0.6" stroke-linecap="round" filter="url(#soft)"/>
<path d="M813.2 63.9C814.6 65.1 820.0 66.8 821.7 70.7C823.4 74.6 823.1 84.8 823.4 87.6" fill="none" stroke="#a8a8a0" stroke-width="1.7999999999999998" opacity="0.6" stroke-linecap="round" filter="url(#soft)"/>
<path d="M750.7 57.2C754.9 55.3 761.4 51.7 767.6 51.1C773.8 50.5 781.7 51.9 787.9 53.8C794.1 55.7 800.5 58.9 804.8 62.2C809.0 65.6 811.0 68.7 813.2 74.1C815.5 79.4 817.2 87.0 818.3 94.3C819.4 101.7 820.0 110.1 820.0 118.0C820.0 125.9 818.8 134.3 818.3 141.7C817.7 149.0 817.7 156.3 816.6 161.9C815.5 167.6 813.9 171.0 811.5 175.5C809.1 180.0 805.1 184.5 802.1 189.0C799.0 193.5 796.1 198.3 793.3 202.5C790.5 206.7 788.0 211.3 785.2 214.0C782.3 216.7 779.6 218.4 776.4 218.7C773.2 219.1 770.2 218.0 765.9 216.0C761.6 214.0 756.0 210.7 750.7 206.5C745.3 202.4 738.9 197.1 733.8 191.3C728.7 185.6 724.2 179.2 720.3 172.1C716.3 164.9 712.1 155.2 710.1 148.4C708.2 141.7 708.2 137.7 708.4 131.5C708.7 125.3 709.9 118.0 711.8 111.2C713.8 104.5 716.9 97.2 720.3 91.0C723.7 84.8 728.4 78.9 732.1 74.1C735.8 69.3 739.1 65.1 742.2 62.2C745.3 59.4 746.5 59.0 750.7 57.2Z" fill="#e6e8de" stroke="#98a092" stroke-width="1.2" filter="url(#soft05)"/>
<path d="M751.3 59.9C755.4 58.1 761.7 54.5 767.6 53.9C773.6 53.3 781.3 54.7 787.2 56.5C793.2 58.3 799.5 61.5 803.5 64.8C807.6 68.1 809.5 71.1 811.6 76.3C813.7 81.6 815.2 89.0 816.1 96.1C817.1 103.2 817.4 111.3 817.3 118.9C817.2 126.4 816.0 134.3 815.5 141.2C815.0 148.2 815.2 155.1 814.2 160.5C813.2 165.9 811.8 169.2 809.5 173.5C807.3 177.8 803.5 182.2 800.6 186.6C797.8 191.0 795.0 195.7 792.3 199.9C789.7 204.0 787.3 208.6 784.6 211.2C781.9 213.9 779.2 215.6 776.1 215.9C773.0 216.3 770.1 215.2 766.0 213.2C761.9 211.2 756.5 207.9 751.4 203.8C746.3 199.8 740.1 194.5 735.3 189.0C730.5 183.4 726.2 177.2 722.5 170.4C718.8 163.5 714.7 154.2 712.9 147.8C711.0 141.3 711.0 137.6 711.2 131.6C711.5 125.7 712.6 118.8 714.4 112.3C716.3 105.8 719.2 98.8 722.4 92.8C725.6 86.8 730.1 81.1 733.6 76.5C737.1 71.8 740.3 67.6 743.2 64.9C746.2 62.1 747.3 61.7 751.3 59.9Z" fill="none" stroke="#7a8060" stroke-width="1.2" opacity="0.5" filter="url(#soft05)"/>
<clipPath id="cb1"><path d="M751.5 60.5C755.5 58.7 761.7 55.1 767.7 54.5C773.6 53.9 781.2 55.3 787.1 57.1C793.0 58.9 799.2 62.0 803.3 65.3C807.3 68.6 809.1 71.6 811.2 76.8C813.3 82.0 814.7 89.5 815.6 96.5C816.6 103.5 816.9 111.6 816.7 119.0C816.6 126.5 815.4 134.3 814.9 141.1C814.4 148.0 814.6 154.9 813.7 160.2C812.7 165.5 811.3 168.8 809.1 173.1C806.9 177.4 803.1 181.7 800.3 186.1C797.5 190.4 794.8 195.2 792.1 199.3C789.5 203.4 787.2 208.0 784.5 210.7C781.8 213.3 779.2 215.0 776.1 215.3C773.0 215.7 770.1 214.6 766.0 212.6C761.9 210.6 756.6 207.3 751.5 203.3C746.5 199.2 740.3 194.0 735.6 188.5C730.8 182.9 726.7 176.8 723.0 170.0C719.3 163.2 715.3 154.0 713.4 147.6C711.6 141.2 711.6 137.5 711.8 131.7C712.1 125.8 713.2 118.9 715.0 112.5C716.8 106.1 719.7 99.1 722.8 93.2C726.0 87.3 730.5 81.6 733.9 77.0C737.3 72.3 740.5 68.2 743.4 65.4C746.4 62.7 747.5 62.3 751.5 60.5Z"/></clipPath>
<g filter="url(#grain)"><g clip-path="url(#cb1)">
<path d="M751.5 60.5C755.5 58.7 761.7 55.1 767.7 54.5C773.6 53.9 781.2 55.3 787.1 57.1C793.0 58.9 799.2 62.0 803.3 65.3C807.3 68.6 809.1 71.6 811.2 76.8C813.3 82.0 814.7 89.5 815.6 96.5C816.6 103.5 816.9 111.6 816.7 119.0C816.6 126.5 815.4 134.3 814.9 141.1C814.4 148.0 814.6 154.9 813.7 160.2C812.7 165.5 811.3 168.8 809.1 173.1C806.9 177.4 803.1 181.7 800.3 186.1C797.5 190.4 794.8 195.2 792.1 199.3C789.5 203.4 787.2 208.0 784.5 210.7C781.8 213.3 779.2 215.0 776.1 215.3C773.0 215.7 770.1 214.6 766.0 212.6C761.9 210.6 756.6 207.3 751.5 203.3C746.5 199.2 740.3 194.0 735.6 188.5C730.8 182.9 726.7 176.8 723.0 170.0C719.3 163.2 715.3 154.0 713.4 147.6C711.6 141.2 711.6 137.5 711.8 131.7C712.1 125.8 713.2 118.9 715.0 112.5C716.8 106.1 719.7 99.1 722.8 93.2C726.0 87.3 730.5 81.6 733.9 77.0C737.3 72.3 740.5 68.2 743.4 65.4C746.4 62.7 747.5 62.3 751.5 60.5Z" fill="#94602c"/>
<ellipse cx="767.6" cy="131.5" rx="26" ry="34" transform="rotate(10 767.6 131.5)" fill="#96560e" opacity="0.7" filter="url(#soft6)"/>
<ellipse cx="777.7" cy="87.6" rx="22" ry="16" transform="rotate(0 777.7 87.6)" fill="#8a5a14" opacity="0.5" filter="url(#soft3)"/>
<ellipse cx="730.4" cy="148.4" rx="8" ry="22" transform="rotate(-20 730.4 148.4)" fill="#a89030" opacity="0.55" filter="url(#soft3)"/>
<ellipse cx="801.4" cy="168.7" rx="8" ry="20" transform="rotate(25 801.4 168.7)" fill="#b08c2c" opacity="0.5" filter="url(#soft3)"/>
<ellipse cx="767.6" cy="195.7" rx="20" ry="10" transform="rotate(0 767.6 195.7)" fill="#b09030" opacity="0.5" filter="url(#soft3)"/>
<path d="M751.5 60.5C755.5 58.7 761.7 55.1 767.7 54.5C773.6 53.9 781.2 55.3 787.1 57.1C793.0 58.9 799.2 62.0 803.3 65.3C807.3 68.6 809.1 71.6 811.2 76.8C813.3 82.0 814.7 89.5 815.6 96.5C816.6 103.5 816.9 111.6 816.7 119.0C816.6 126.5 815.4 134.3 814.9 141.1C814.4 148.0 814.6 154.9 813.7 160.2C812.7 165.5 811.3 168.8 809.1 173.1C806.9 177.4 803.1 181.7 800.3 186.1C797.5 190.4 794.8 195.2 792.1 199.3C789.5 203.4 787.2 208.0 784.5 210.7C781.8 213.3 779.2 215.0 776.1 215.3C773.0 215.7 770.1 214.6 766.0 212.6C761.9 210.6 756.6 207.3 751.5 203.3C746.5 199.2 740.3 194.0 735.6 188.5C730.8 182.9 726.7 176.8 723.0 170.0C719.3 163.2 715.3 154.0 713.4 147.6C711.6 141.2 711.6 137.5 711.8 131.7C712.1 125.8 713.2 118.9 715.0 112.5C716.8 106.1 719.7 99.1 722.8 93.2C726.0 87.3 730.5 81.6 733.9 77.0C737.3 72.3 740.5 68.2 743.4 65.4C746.4 62.7 747.5 62.3 751.5 60.5Z" fill="none" stroke="#9c9440" stroke-width="6" opacity="0.7" filter="url(#soft2)"/>
</g></g>
<circle cx="749.0" cy="173.8" r="8.0" fill="url(#spot)" opacity="0.95"/>
<circle cx="794.6" cy="150.1" r="6.0" fill="url(#spot)" opacity="0.6"/>
<circle cx="732.1" cy="128.1" r="6.0" fill="url(#spot)" opacity="0.55"/>
</g>
<g id="b2">
<path d="M807.6 314.6C808.2 311.1 810.4 308.0 815.3 303.9C820.1 299.9 829.1 294.8 836.7 290.2C844.3 285.6 853.3 280.7 861.2 276.4C869.1 272.1 879.8 263.7 884.1 264.2C888.4 264.7 887.4 274.9 887.2 279.5C886.9 284.1 886.9 288.6 882.6 291.7C878.2 294.8 870.1 294.5 861.2 297.8C852.2 301.1 835.7 306.5 829.1 311.6C822.4 316.7 824.2 326.1 821.4 328.4C818.6 330.7 814.5 327.6 812.2 325.3C809.9 323.0 807.1 318.2 807.6 314.6Z" fill="#fff" filter="url(#wgrain)" opacity="0.65"/>
<path d="M887.2 284.1C886.6 277.9 892.0 268.0 897.9 268.8C903.7 269.5 914.2 281.2 922.3 288.6C930.5 296.0 938.6 306.0 946.8 313.1C954.9 320.2 964.9 326.6 971.3 331.5C977.6 336.3 983.0 338.1 985.0 342.2C987.1 346.2 985.3 351.6 983.5 355.9C981.7 360.2 977.1 365.1 974.3 368.1C971.5 371.2 969.2 375.3 966.7 374.3C964.1 373.2 964.9 369.2 959.0 362.0C953.2 354.9 941.2 340.9 931.5 331.5C921.8 322.0 908.3 313.4 900.9 305.5C893.5 297.6 887.7 290.2 887.2 284.1Z" fill="#fff" filter="url(#wgrain)" opacity="0.65"/>
<path d="M807.6 314.6C808.9 312.8 810.4 308.0 815.3 303.9C820.1 299.9 829.1 294.8 836.7 290.2C844.3 285.6 853.3 280.7 861.2 276.4C869.1 272.1 880.3 266.2 884.1 264.2" fill="none" stroke="#b4b4b4" stroke-width="1.7999999999999998" opacity="0.6" stroke-linecap="round" filter="url(#soft)"/>
<path d="M884.1 264.2C884.6 266.7 887.3 274.6 887.2 279.5C887.0 284.3 883.8 290.9 883.2 293.2" fill="none" stroke="#8a9088" stroke-width="2.0" opacity="0.7" stroke-linecap="round" filter="url(#soft)"/>
<path d="M888.7 285.6C890.2 282.8 896.3 271.6 897.9 268.8" fill="none" stroke="#8a9088" stroke-width="2.0" opacity="0.7" stroke-linecap="round" filter="url(#soft)"/>
<path d="M897.9 268.8C901.9 272.1 914.2 281.2 922.3 288.6C930.5 296.0 938.6 306.0 946.8 313.1C954.9 320.2 964.9 326.6 971.3 331.5C977.6 336.3 982.7 340.4 985.0 342.2" fill="none" stroke="#c8c8cc" stroke-width="1.7999999999999998" opacity="0.6" stroke-linecap="round" filter="url(#soft)"/>
<path d="M985.0 342.2C984.8 344.4 985.3 351.6 983.5 355.9C981.7 360.2 977.1 365.1 974.3 368.1C971.5 371.2 967.9 373.2 966.7 374.3" fill="none" stroke="#b0b0b4" stroke-width="2.0" opacity="0.7" stroke-linecap="round" filter="url(#soft)"/>
<path d="M807.6 314.6C808.4 316.4 809.8 323.0 812.2 325.3C814.6 327.6 820.4 327.9 822.0 328.4" fill="none" stroke="#a0a0a0" stroke-width="1.7999999999999998" opacity="0.6" stroke-linecap="round" filter="url(#soft)"/>
<path d="M809.2 313.1C812.2 313.0 824.5 312.6 827.5 312.5" fill="none" stroke="#909890" stroke-width="1.7999999999999998" opacity="0.6" stroke-linecap="round" filter="url(#soft)"/>
<path d="M919.3 308.5C921.8 307.2 927.9 295.0 934.6 300.9C941.2 306.7 950.9 336.5 959.0 343.7C967.2 350.8 979.4 343.7 983.5 343.7" fill="none" stroke="#c8c8cc" stroke-width="1.7999999999999998" opacity="0.45" stroke-linecap="round" filter="url(#soft)"/>
<path d="M829.1 311.6C832.2 309.0 837.5 306.2 842.8 303.9C848.2 301.6 855.6 299.6 861.2 297.8C866.8 296.0 871.9 293.5 876.5 293.2C881.0 293.0 884.6 294.2 888.7 296.3C892.8 298.3 896.3 301.9 900.9 305.5C905.5 309.0 911.1 313.4 916.2 317.7C921.3 322.0 926.4 326.6 931.5 331.5C936.6 336.3 942.2 341.6 946.8 346.7C951.4 351.8 956.0 356.4 959.0 362.0C962.1 367.6 963.6 374.3 965.1 380.4C966.7 386.5 967.6 392.6 968.2 398.7C968.8 404.8 969.3 412.2 968.8 417.1C968.3 421.9 967.8 425.3 965.1 427.8C962.5 430.2 958.0 430.9 952.9 431.8C947.8 432.6 941.2 432.6 934.6 433.0C927.9 433.3 920.3 434.1 913.1 433.9C906.0 433.7 898.4 433.3 891.7 431.8C885.1 430.2 879.0 427.9 873.4 424.7C867.8 421.5 862.4 417.3 858.1 412.5C853.8 407.7 850.7 402.0 847.4 395.7C844.1 389.3 841.0 381.4 838.2 374.3C835.4 367.1 832.9 360.0 830.6 352.9C828.3 345.7 825.6 337.1 824.5 331.5C823.3 325.8 823.1 322.5 823.9 319.2C824.6 315.9 825.9 314.1 829.1 311.6Z" fill="#e6e8de" stroke="#98a092" stroke-width="1.2" filter="url(#soft05)"/>
<path d="M830.9 313.1C834.0 310.6 839.2 307.9 844.4 305.7C849.6 303.5 856.8 301.6 862.3 299.9C867.7 298.2 872.6 295.8 877.1 295.5C881.5 295.3 885.0 296.6 888.9 298.7C892.9 300.7 896.3 304.3 900.7 307.9C905.1 311.4 910.4 315.7 915.3 319.9C920.1 324.1 924.9 328.5 929.8 333.1C934.6 337.7 940.1 342.7 944.5 347.6C949.0 352.4 953.6 356.8 956.6 362.2C959.7 367.5 961.2 373.9 962.8 379.9C964.4 385.8 965.3 391.7 966.0 397.7C966.7 403.7 967.3 410.9 966.9 415.7C966.4 420.4 965.9 423.8 963.4 426.2C960.8 428.5 956.3 429.1 951.4 429.9C946.4 430.7 939.8 430.6 933.4 430.9C926.9 431.2 919.5 431.8 912.6 431.6C905.7 431.3 898.3 430.9 891.9 429.4C885.5 427.9 879.6 425.6 874.3 422.5C868.9 419.4 863.8 415.3 859.6 410.6C855.5 405.9 852.6 400.5 849.4 394.4C846.3 388.3 843.3 380.7 840.6 373.9C837.8 367.0 835.3 360.2 832.9 353.3C830.6 346.4 827.8 337.9 826.6 332.5C825.5 327.0 825.2 323.7 825.9 320.5C826.6 317.3 827.8 315.5 830.9 313.1Z" fill="none" stroke="#7a8060" stroke-width="1.2" opacity="0.5" filter="url(#soft05)"/>
<clipPath id="cb2"><path d="M831.4 313.4C834.5 311.0 839.6 308.4 844.8 306.2C850.0 304.0 857.1 302.2 862.5 300.5C868.0 298.8 872.8 296.3 877.3 296.1C881.7 295.9 885.1 297.2 889.0 299.3C892.9 301.3 896.3 304.9 900.7 308.4C905.0 312.0 910.3 316.3 915.1 320.5C919.8 324.6 924.5 329.0 929.3 333.5C934.2 338.1 939.5 343.0 944.0 347.8C948.4 352.6 953.0 356.9 956.0 362.2C959.1 367.5 960.6 373.9 962.2 379.7C963.8 385.6 964.8 391.5 965.5 397.5C966.2 403.4 966.8 410.6 966.4 415.3C965.9 420.1 965.5 423.4 962.9 425.8C960.3 428.1 955.9 428.7 951.0 429.5C946.0 430.2 939.5 430.1 933.1 430.4C926.7 430.6 919.3 431.3 912.4 431.0C905.6 430.7 898.3 430.3 891.9 428.8C885.6 427.3 879.8 425.0 874.5 421.9C869.1 418.8 864.1 414.8 860.0 410.2C855.9 405.5 853.1 400.1 849.9 394.1C846.8 388.0 843.9 380.6 841.2 373.8C838.5 367.0 835.9 360.3 833.5 353.4C831.2 346.6 828.4 338.2 827.2 332.7C826.0 327.3 825.7 324.0 826.4 320.8C827.1 317.6 828.3 315.9 831.4 313.4Z"/></clipPath>
<g filter="url(#grain)"><g clip-path="url(#cb2)">
<path d="M831.4 313.4C834.5 311.0 839.6 308.4 844.8 306.2C850.0 304.0 857.1 302.2 862.5 300.5C868.0 298.8 872.8 296.3 877.3 296.1C881.7 295.9 885.1 297.2 889.0 299.3C892.9 301.3 896.3 304.9 900.7 308.4C905.0 312.0 910.3 316.3 915.1 320.5C919.8 324.6 924.5 329.0 929.3 333.5C934.2 338.1 939.5 343.0 944.0 347.8C948.4 352.6 953.0 356.9 956.0 362.2C959.1 367.5 960.6 373.9 962.2 379.7C963.8 385.6 964.8 391.5 965.5 397.5C966.2 403.4 966.8 410.6 966.4 415.3C965.9 420.1 965.5 423.4 962.9 425.8C960.3 428.1 955.9 428.7 951.0 429.5C946.0 430.2 939.5 430.1 933.1 430.4C926.7 430.6 919.3 431.3 912.4 431.0C905.6 430.7 898.3 430.3 891.9 428.8C885.6 427.3 879.8 425.0 874.5 421.9C869.1 418.8 864.1 414.8 860.0 410.2C855.9 405.5 853.1 400.1 849.9 394.1C846.8 388.0 843.9 380.6 841.2 373.8C838.5 367.0 835.9 360.3 833.5 353.4C831.2 346.6 828.4 338.2 827.2 332.7C826.0 327.3 825.7 324.0 826.4 320.8C827.1 317.6 828.3 315.9 831.4 313.4Z" fill="#925e2a"/>
<ellipse cx="907.0" cy="378.9" rx="20" ry="22" transform="rotate(0 907.0 378.9)" fill="#b4721e" opacity="0.75" filter="url(#soft3)"/>
<ellipse cx="888.7" cy="349.8" rx="30" ry="11" transform="rotate(25 888.7 349.8)" fill="#7e440c" opacity="0.6" filter="url(#soft3)"/>
<ellipse cx="876.5" cy="383.4" rx="9" ry="22" transform="rotate(10 876.5 383.4)" fill="#7e440c" opacity="0.5" filter="url(#soft3)"/>
<ellipse cx="848.9" cy="346.7" rx="9" ry="24" transform="rotate(-15 848.9 346.7)" fill="#a88c26" opacity="0.45" filter="url(#soft3)"/>
<ellipse cx="949.8" cy="377.3" rx="9" ry="24" transform="rotate(-20 949.8 377.3)" fill="#a88c26" opacity="0.45" filter="url(#soft3)"/>
<ellipse cx="879.5" cy="316.2" rx="26" ry="10" transform="rotate(-15 879.5 316.2)" fill="#a8781e" opacity="0.45" filter="url(#soft3)"/>
<path d="M831.4 313.4C834.5 311.0 839.6 308.4 844.8 306.2C850.0 304.0 857.1 302.2 862.5 300.5C868.0 298.8 872.8 296.3 877.3 296.1C881.7 295.9 885.1 297.2 889.0 299.3C892.9 301.3 896.3 304.9 900.7 308.4C905.0 312.0 910.3 316.3 915.1 320.5C919.8 324.6 924.5 329.0 929.3 333.5C934.2 338.1 939.5 343.0 944.0 347.8C948.4 352.6 953.0 356.9 956.0 362.2C959.1 367.5 960.6 373.9 962.2 379.7C963.8 385.6 964.8 391.5 965.5 397.5C966.2 403.4 966.8 410.6 966.4 415.3C965.9 420.1 965.5 423.4 962.9 425.8C960.3 428.1 955.9 428.7 951.0 429.5C946.0 430.2 939.5 430.1 933.1 430.4C926.7 430.6 919.3 431.3 912.4 431.0C905.6 430.7 898.3 430.3 891.9 428.8C885.6 427.3 879.8 425.0 874.5 421.9C869.1 418.8 864.1 414.8 860.0 410.2C855.9 405.5 853.1 400.1 849.9 394.1C846.8 388.0 843.9 380.6 841.2 373.8C838.5 367.0 835.9 360.3 833.5 353.4C831.2 346.6 828.4 338.2 827.2 332.7C826.0 327.3 825.7 324.0 826.4 320.8C827.1 317.6 828.3 315.9 831.4 313.4Z" fill="none" stroke="#9c9440" stroke-width="6" opacity="0.7" filter="url(#soft2)"/>
</g></g>
<circle cx="860.6" cy="322.9" r="10.0" fill="url(#spot)" opacity="0.9"/>
<circle cx="919.9" cy="346.1" r="8.5" fill="url(#spot)" opacity="0.9"/>
<circle cx="860.2" cy="371.2" r="8.0" fill="url(#spot)" opacity="0.9"/>
<circle cx="881.7" cy="400.3" r="10.5" fill="url(#spot)" opacity="0.9"/>
<circle cx="935.5" cy="398.7" r="10.5" fill="url(#spot)" opacity="0.9"/>
</g>
<text x="134.5" y="178" class="sp">Dinophysis acuminata</text>
<text x="756" y="251" class="sp">Dinophysis acuta</text>
</svg>
</body>
</html>
